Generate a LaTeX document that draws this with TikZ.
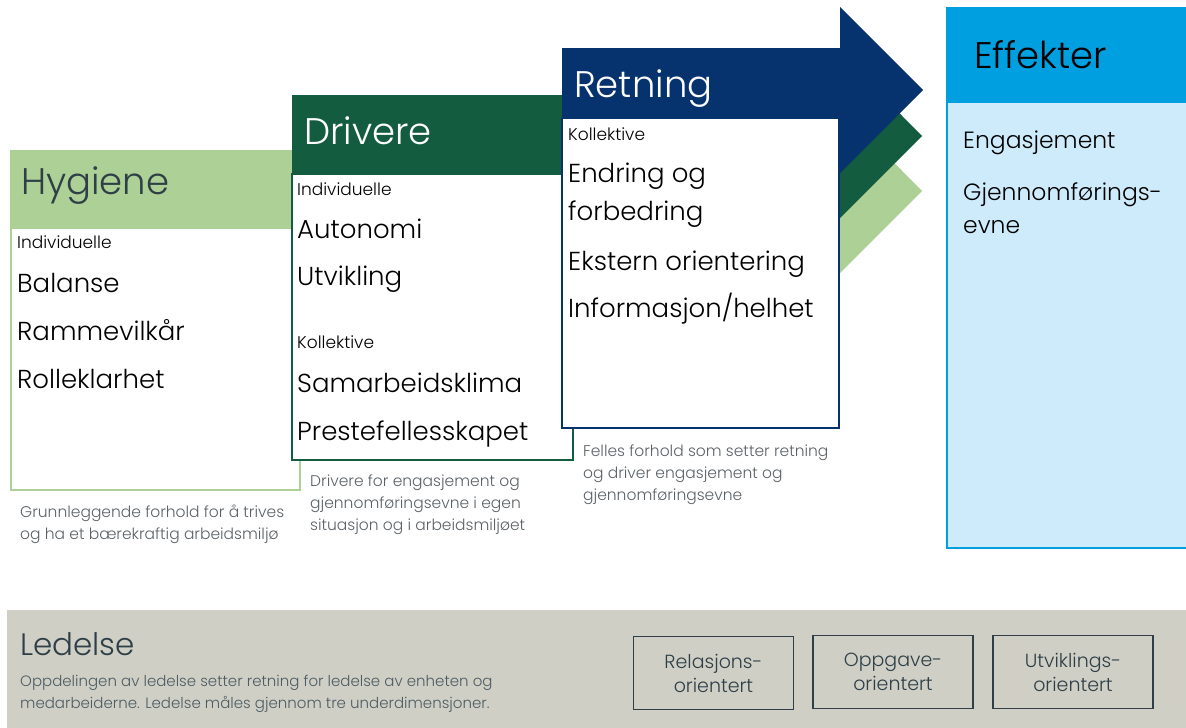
\documentclass[tikz,border=0pt]{standalone}
\usepackage{fontspec}
\setmainfont{Poppins Light}
\definecolor{lgreen}{HTML}{ADD096}
\definecolor{dgreen}{HTML}{135C40}
\definecolor{navy}{HTML}{06326D}
\definecolor{eblue}{HTML}{009FDF}
\definecolor{lblue}{HTML}{CDEBFB}
\definecolor{lgrey}{HTML}{CFCFC6}
\definecolor{slate}{HTML}{2E3F47}
\definecolor{capgrey}{HTML}{5B6166}
\begin{document}
\begin{tikzpicture}[x=1pt,y=-1pt,
    head/.style={anchor=base west,inner sep=0pt,font=\fontsize{37}{37}\selectfont},
    item/.style={anchor=base west,inner sep=0pt,font=\fontsize{26}{26}\selectfont},
    tag/.style={anchor=base west,inner sep=0pt,font=\fontsize{17}{17}\selectfont},
    note/.style={anchor=base west,inner sep=0pt,align=left,text=capgrey,font=\fontsize{15.5}{22}\selectfont},
    dim/.style={draw=slate,line width=1.5pt,minimum width=160pt,minimum height=73pt,inner sep=0pt,
      align=center,text=slate,font=\fontsize{19}{24}\selectfont}]
    \useasboundingbox(0,0)rectangle(1186,728);
    % Hygiene
    \fill[lgreen](10,150)rectangle(300,228);
    \draw[lgreen,line width=2pt,fill=white](11,228)rectangle(300,490);
    \node[head,text=slate](hyg)at(21,194){Hygiene};
    \node[tag](hygind)at(17,248){Individuelle};
    \foreach \t/\y[count=\i] in{Balanse/292,Rammevilkår/340,Rolleklarhet/388}\node[item](hyg\i)at(17,\y){\t};
    \node[note](hygnote)at(20,539){Grunnleggende forhold for å trives\\og ha et bærekraftig arbeidsmiljø};
    % Drivere
    \fill[dgreen](292,95)rectangle(573,174);
    \draw[dgreen,line width=1.5pt,fill=white](292,174)rectangle(573,460);
    \node[head,text=white](dri)at(304,144){Drivere};
    \node[tag](driind)at(297,195){Individuelle};
    \node[tag](drikol)at(297,348){Kollektive};
    \foreach \t/\y[count=\i] in{Autonomi/238,Utvikling/285,Samarbeidsklima/392,Prestefellesskapet/440}\node[item](dri\i)at(297,\y){\t};
    \node[note](drinote)at(310,530){Drivere for engasjement og\\gjennomføringsevne i egen\\situasjon og i arbeidsmiljøet};
    % arrow heads
    \fill[lgreen](840,108)--(922,191)--(840,273)--cycle;
    \fill[dgreen](840,53)--(922,136)--(840,218)--cycle;
    \fill[navy](840,7)--(923,90)--(840,173)--cycle;
    % Retning
    \fill[navy](562,48)rectangle(840,118);
    \draw[navy,line width=1.5pt,fill=white](562,118)rectangle(839,428);
    \node[head,text=white](ret)at(574,97){Retning};
    \node[tag](retkol)at(568,140){Kollektive};
    \node[item](ret1)at(568,182){Endring og};
    \node[item](ret1b)at(568,220){forbedring};
    \node[item](ret2)at(568,270){Ekstern orientering};
    \node[item](ret3)at(568,317){Informasjon/helhet};
    \node[note](retnote)at(583,500){Felles forhold som setter retning\\og driver engasjement og\\gjennomføringsevne};
    % Effekter
    \fill[eblue](946,7)rectangle(1186,102);
    \draw[eblue,line width=2pt,fill=lblue](1190,102)--(947,102)--(947,548)--(1190,548);
    \node[head](eff)at(974,68){Effekter};
    \node[item,font=\fontsize{23.5}{23.5}\selectfont](eff1)at(963,148){Engasjement};
    \node[item,font=\fontsize{23.5}{23.5}\selectfont](eff2)at(963,200){Gjennomførings-};
    \node[item,font=\fontsize{23.5}{23.5}\selectfont](eff2b)at(963,233){evne};
    % Ledelse
    \fill[lgrey](7,610)rectangle(1186,728);
    \node[anchor=base west,inner sep=0pt,text=slate,font=\fontsize{31}{31}\selectfont](led)at(20,655){Ledelse};
    \node[note,text=slate!85,font=\fontsize{15}{22}\selectfont](lednote)at(20,708){Oppdelingen av ledelse setter retning for ledelse av enheten og\\medarbeiderne. Ledelse måles gjennom tre underdimensjoner.};
    \node[dim](rel)at(713.5,673){Relasjons-\\orientert};
    \node[dim](opp)at(893,672){Oppgave-\\orientert};
    \node[dim](utv)at(1073,672){Utviklings-\\orientert};
\end{tikzpicture}
\end{document}
